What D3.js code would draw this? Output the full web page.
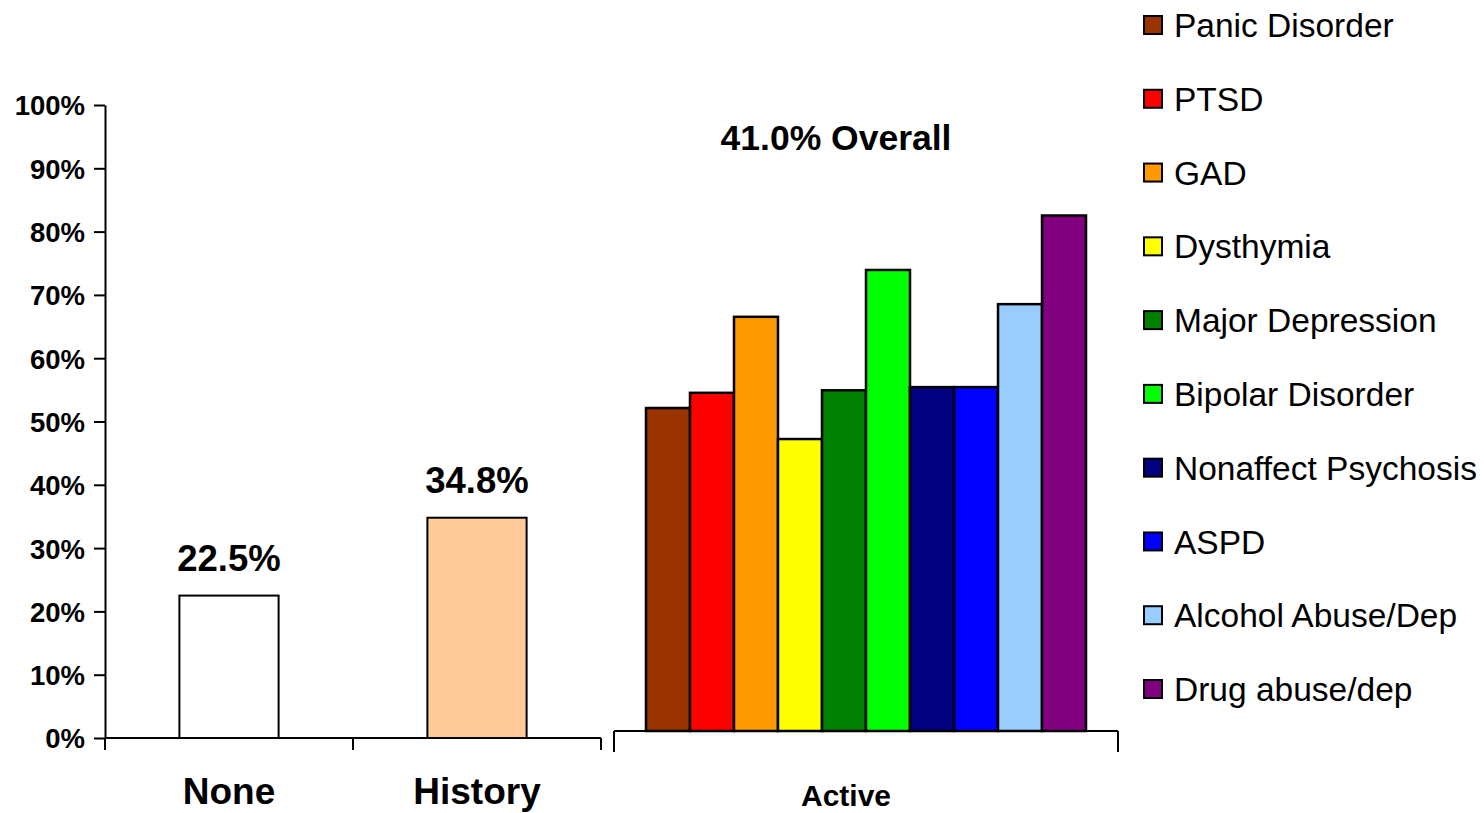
<!DOCTYPE html>
<html>
<head>
<meta charset="utf-8">
<script src="https://cdn.jsdelivr.net/npm/d3@7"></script>
<style>
  html, body { margin: 0; padding: 0; background: #fff; }
  svg { display: block; font-family: "Liberation Sans", Arial, sans-serif; }
</style>
</head>
<body>
<svg id="chart" width="1484" height="813"></svg>
<script>
// Rates by disorder status (percent)
const statusGroups = ["None", "History"];
const statusValues = [22.5, 34.8];
const statusColors = ["#FFFFFF", "#FFCC99"];

const activeLabel = "Active";
const activeOverall = "41.0% Overall";
const disorders = ["Panic Disorder", "PTSD", "GAD", "Dysthymia", "Major Depression",
  "Bipolar Disorder", "Nonaffect Psychosis", "ASPD", "Alcohol Abuse/Dep", "Drug abuse/dep"];
const disorderValues = [51.0, 53.4, 65.4, 46.1, 53.8, 72.8, 54.3, 54.3, 67.4, 81.4];
const disorderColors = ["#993300", "#FF0000", "#FF9900", "#FFFF00", "#008000",
  "#00FF00", "#000080", "#0000FF", "#99CCFF", "#800080"];

const yTicks = [0, 10, 20, 30, 40, 50, 60, 70, 80, 90, 100];

const svg = d3.select("#chart");

// ---- Left panel: None / History ----
const y = d3.scaleLinear().domain([0, 100]).range([738, 105]);
const x = d3.scaleBand().domain(statusGroups).range([105, 601])
  .paddingInner(0.6).paddingOuter(0.3);

const yAxis = d3.axisLeft(y).tickValues(yTicks).tickFormat(d => d + "%")
  .tickSizeOuter(0).tickSizeInner(11).tickPadding(9);
const gy = svg.append("g").attr("transform", "translate(105,0)").call(yAxis);
gy.select(".domain").attr("stroke", "#000").attr("stroke-width", 2);
gy.selectAll(".tick line").attr("stroke", "#000").attr("stroke-width", 2);
gy.selectAll(".tick text").attr("fill", "#000").attr("font-size", 27.5)
  .attr("font-weight", "bold").attr("font-family", "Liberation Sans, Arial, sans-serif")
  .attr("dy", "0.36em");

// x baseline with category separators
const xEdges = [105, 353, 601];
svg.append("line").attr("x1", 105).attr("x2", 601).attr("y1", y(0)).attr("y2", y(0))
  .attr("stroke", "#000").attr("stroke-width", 2);
svg.selectAll(".xsep").data(xEdges).enter().append("line")
  .attr("x1", d => d).attr("x2", d => d).attr("y1", y(0)).attr("y2", y(0) + 12)
  .attr("stroke", "#000").attr("stroke-width", 2);

svg.selectAll(".statusBar").data(statusGroups).enter().append("rect")
  .attr("x", d => x(d)).attr("width", x.bandwidth())
  .attr("y", (d, i) => y(statusValues[i]))
  .attr("height", (d, i) => y(0) - y(statusValues[i]))
  .attr("fill", (d, i) => statusColors[i]).attr("stroke", "#000").attr("stroke-width", 2);

svg.selectAll(".statusVal").data(statusGroups).enter().append("text")
  .attr("x", d => x(d) + x.bandwidth() / 2)
  .attr("y", (d, i) => y(statusValues[i]) - 25)
  .attr("text-anchor", "middle").attr("font-size", 36.5).attr("font-weight", "bold")
  .text((d, i) => statusValues[i].toFixed(1) + "%");

svg.selectAll(".statusLab").data(statusGroups).enter().append("text")
  .attr("x", d => x(d) + x.bandwidth() / 2).attr("y", 804)
  .attr("text-anchor", "middle").attr("font-size", 37).attr("font-weight", "bold")
  .text(d => d);

// ---- Right panel: Active, by disorder ----
const ya = d3.scaleLinear().domain([0, 100]).range([731, 731 - 633.3]);
const xa = d3.scaleBand().domain(disorders).range([614, 1118])
  .paddingInner(0).paddingOuter(0.727);

svg.append("line").attr("x1", 614).attr("x2", 1118).attr("y1", ya(0)).attr("y2", ya(0))
  .attr("stroke", "#000").attr("stroke-width", 2);
svg.selectAll(".asep").data([614, 1118]).enter().append("line")
  .attr("x1", d => d).attr("x2", d => d).attr("y1", ya(0)).attr("y2", ya(0) + 21)
  .attr("stroke", "#000").attr("stroke-width", 2);

svg.selectAll(".disBar").data(disorders).enter().append("rect")
  .attr("x", d => xa(d)).attr("width", xa.bandwidth())
  .attr("y", (d, i) => ya(disorderValues[i]))
  .attr("height", (d, i) => ya(0) - ya(disorderValues[i]))
  .attr("fill", (d, i) => disorderColors[i]).attr("stroke", "#000").attr("stroke-width", 2.5);

svg.append("text").attr("x", 836).attr("y", 150).attr("text-anchor", "middle")
  .attr("font-size", 35.5).attr("font-weight", "bold").text(activeOverall);

svg.append("text").attr("x", 846).attr("y", 806).attr("text-anchor", "middle")
  .attr("font-size", 30).attr("font-weight", "bold").text(activeLabel);

// ---- Legend ----
const legendY = d3.scalePoint().domain(disorders).range([25, 689]);
const leg = svg.selectAll(".leg").data(disorders).enter().append("g")
  .attr("transform", d => `translate(1144,${legendY(d)})`);
leg.append("rect").attr("x", 0).attr("y", -9).attr("width", 18).attr("height", 18)
  .attr("fill", (d, i) => disorderColors[i]).attr("stroke", "#000").attr("stroke-width", 2);
leg.append("text").attr("x", 30).attr("y", 0).attr("dy", "0.36em")
  .attr("font-size", 33.5).attr("fill", "#000").text(d => d);
</script>
</body>
</html>
